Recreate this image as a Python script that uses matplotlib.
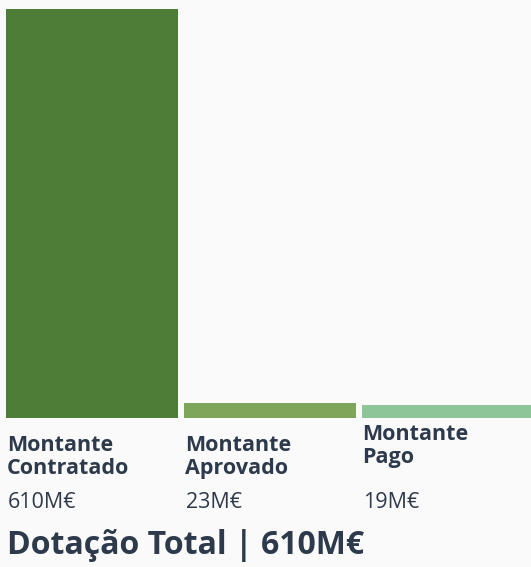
import matplotlib.pyplot as plt
import matplotlib.transforms as mtransforms

# data
labels = ["Montante\nContratado", "Montante\nAprovado", "Montante\nPago"]
values = [610, 23, 19]
value_labels = ["610M€", "23M€", "19M€"]
total_label = "Dotação Total | 610M€"

colors = ["#4e7d37", "#7da65a", "#8dc597"]
text_col = "#2d3a4b"
bg = "#fafafa"

W, H = 531, 567
fig = plt.figure(figsize=(W / 100, H / 100), dpi=100, facecolor=bg)
plt.rcParams['font.family'] = ['Open Sans', 'DejaVu Sans']

# axes spans pixel y 9..418, x 0..531
ax = fig.add_axes([0, (H - 418) / H, 1, 409 / H])
ax.set_facecolor(bg)
bar_w = 0.966
x = list(range(len(values)))
ax.bar(x, values, width=bar_w, color=colors)
ax.set_xlim(-0.517, 2.47)
ax.set_ylim(0, max(values))
ax.axis("off")

trans = mtransforms.blended_transform_factory(ax.transData, fig.transFigure)
label_y = [435, 435, 424]
for i, lab in enumerate(labels):
    ax.text(x[i] - bar_w / 2 + 0.005, 1 - label_y[i] / H, lab, transform=trans,
            ha="left", va="top", fontsize=15.5, fontweight="bold", color=text_col,
            linespacing=1.1)
    ax.text(x[i] - bar_w / 2 + 0.01, 1 - 503 / H, value_labels[i], transform=trans,
            ha="left", va="center", fontsize=15.5, color=text_col)

fig.text(7 / W, 1 - 545 / H, total_label, ha="left", va="center",
         fontsize=23, fontweight="bold", color=text_col)

fig.savefig("out.png", dpi=100, facecolor=bg)
